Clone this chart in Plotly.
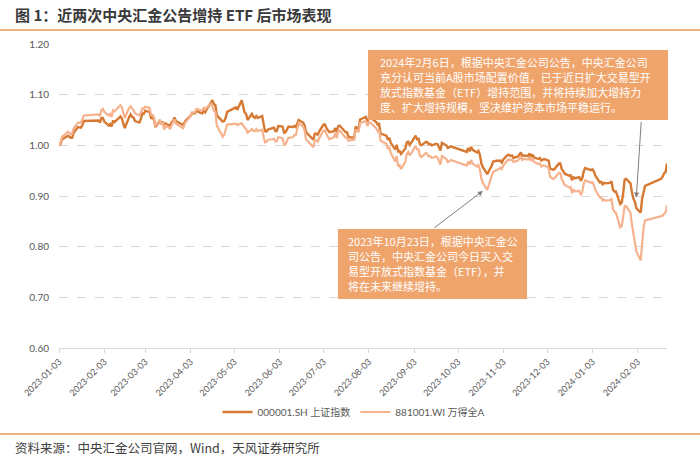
import pandas as pd
import plotly.graph_objects as go

# ---------------- data ----------------
start_date = "2023-01-03"
end_date = "2024-02-23"
market_holidays = [
    "2023-01-23", "2023-01-24", "2023-01-25", "2023-01-26", "2023-01-27",
    "2023-04-05", "2023-05-01", "2023-05-02", "2023-05-03",
    "2023-06-22", "2023-06-23", "2023-09-29",
    "2023-10-02", "2023-10-03", "2023-10-04", "2023-10-05", "2023-10-06",
    "2024-01-01", "2024-02-09", "2024-02-12", "2024-02-13", "2024-02-14",
    "2024-02-15", "2024-02-16",
]

# 000001.SH 上证指数 (normalised)
sh_values = [
    # 2023-01
    1.000, 1.002, 1.012, 1.013, 1.019, 1.017, 1.015, 1.015, 1.025, 1.036, 1.035, 1.035, 1.040, 1.048, 1.049, 1.045,
    # 2023-02
    1.054, 1.054, 1.047, 1.039, 1.042, 1.037, 1.049, 1.046, 1.054, 1.057, 1.053, 1.043, 1.034, 1.056, 1.061, 1.056, 1.055, 1.048, 1.045, 1.052,
    # 2023-03
    1.063, 1.062, 1.068, 1.066, 1.054, 1.054, 1.051, 1.036, 1.049, 1.041, 1.047, 1.035, 1.043, 1.038, 1.045, 1.048, 1.055, 1.048, 1.043, 1.041, 1.040, 1.046, 1.050,
    # 2023-04
    1.058, 1.063, 1.063, 1.068, 1.064, 1.063, 1.068, 1.065, 1.071, 1.086, 1.089, 1.081, 1.080, 1.059, 1.051, 1.047, 1.048, 1.054, 1.066,
    # 2023-05
    1.075, 1.070, 1.089, 1.077, 1.065, 1.062, 1.050, 1.062, 1.056, 1.054, 1.058, 1.054, 1.058, 1.042, 1.028, 1.027, 1.031, 1.034, 1.035, 1.028,
    # 2023-06
    1.028, 1.038, 1.037, 1.025, 1.026, 1.031, 1.037, 1.036, 1.038, 1.036, 1.044, 1.050, 1.045, 1.040, 1.026, 1.011, 1.023, 1.023, 1.021, 1.027,
    # 2023-07
    1.041, 1.041, 1.034, 1.029, 1.026, 1.028, 1.034, 1.026, 1.038, 1.039, 1.030, 1.026, 1.026, 1.017, 1.016, 1.015, 1.037, 1.034, 1.032, 1.051, 1.056,
    # 2023-08
    1.056, 1.047, 1.053, 1.055, 1.049, 1.046, 1.041, 1.044, 1.023, 1.020, 1.019, 1.011, 1.015, 1.005, 0.992, 1.001, 0.988, 0.989, 0.983, 0.994, 1.006, 1.007, 1.001,
    # 2023-09
    1.005, 1.019, 1.012, 1.013, 1.002, 1.000, 1.007, 1.006, 1.002, 1.003, 1.000, 1.003, 1.002, 0.997, 0.990, 1.005, 1.000, 0.995, 0.997, 0.998,
    # 2023-10
    0.987, 0.995, 0.988, 0.997, 0.991, 0.986, 0.989, 0.981, 0.964, 0.957, 0.943, 0.950, 0.954, 0.959, 0.968, 0.970, 0.969,
    # 2023-11
    0.970, 0.966, 0.972, 0.981, 0.981, 0.979, 0.980, 0.975, 0.978, 0.981, 0.986, 0.979, 0.980, 0.979, 0.984, 0.977, 0.982, 0.976, 0.973, 0.975, 0.970, 0.972,
    # 2023-12
    0.973, 0.970, 0.954, 0.953, 0.952, 0.953, 0.964, 0.964, 0.953, 0.949, 0.944, 0.940, 0.941, 0.931, 0.937, 0.935, 0.937, 0.930, 0.935, 0.948, 0.955,
    # 2024-01
    0.951, 0.953, 0.948, 0.940, 0.927, 0.928, 0.923, 0.926, 0.925, 0.926, 0.929, 0.913, 0.909, 0.909, 0.884, 0.887, 0.905, 0.932, 0.934, 0.925, 0.908, 0.895,
    # 2024-02
    0.889, 0.876, 0.867, 0.895, 0.908, 0.920, 0.934, 0.938, 0.945, 0.947, 0.964,
]

# 881001.WI 万得全A (normalised)
wa_values = [
    # 2023-01
    1.000, 1.005, 1.017, 1.019, 1.027, 1.025, 1.022, 1.023, 1.033, 1.045, 1.045, 1.045, 1.051, 1.059, 1.061, 1.058,
    # 2023-02
    1.070, 1.072, 1.066, 1.059, 1.062, 1.056, 1.069, 1.067, 1.076, 1.079, 1.075, 1.064, 1.054, 1.074, 1.077, 1.072, 1.070, 1.063, 1.059, 1.064,
    # 2023-03
    1.073, 1.072, 1.076, 1.074, 1.060, 1.060, 1.055, 1.038, 1.051, 1.041, 1.045, 1.031, 1.039, 1.033, 1.041, 1.045, 1.051, 1.043, 1.037, 1.035, 1.034, 1.042, 1.047,
    # 2023-04
    1.058, 1.065, 1.065, 1.072, 1.069, 1.069, 1.074, 1.071, 1.075, 1.082, 1.076, 1.068, 1.066, 1.039, 1.023, 1.017, 1.020, 1.030, 1.041,
    # 2023-05
    1.043, 1.040, 1.044, 1.039, 1.035, 1.032, 1.025, 1.032, 1.028, 1.028, 1.032, 1.028, 1.031, 1.017, 1.006, 1.007, 1.011, 1.012, 1.013, 1.008,
    # 2023-06
    1.008, 1.016, 1.014, 1.001, 1.002, 1.009, 1.015, 1.016, 1.020, 1.020, 1.034, 1.044, 1.037, 1.030, 1.012, 0.996, 1.009, 1.010, 1.007, 1.014,
    # 2023-07
    1.029, 1.029, 1.022, 1.016, 1.012, 1.016, 1.024, 1.014, 1.028, 1.029, 1.020, 1.015, 1.016, 1.009, 1.010, 1.011, 1.031, 1.028, 1.026, 1.044, 1.048,
    # 2023-08
    1.048, 1.038, 1.044, 1.045, 1.038, 1.034, 1.028, 1.031, 1.009, 1.005, 1.003, 0.993, 0.997, 0.985, 0.968, 0.979, 0.960, 0.961, 0.953, 0.968, 0.984, 0.987, 0.980,
    # 2023-09
    0.984, 0.999, 0.992, 0.992, 0.979, 0.977, 0.985, 0.983, 0.978, 0.979, 0.975, 0.978, 0.976, 0.970, 0.962, 0.979, 0.973, 0.967, 0.970, 0.971,
    # 2023-10
    0.960, 0.968, 0.962, 0.971, 0.964, 0.958, 0.961, 0.952, 0.934, 0.926, 0.912, 0.922, 0.928, 0.937, 0.948, 0.952, 0.953,
    # 2023-11
    0.956, 0.953, 0.960, 0.971, 0.972, 0.971, 0.972, 0.967, 0.970, 0.973, 0.978, 0.971, 0.973, 0.972, 0.977, 0.969, 0.974, 0.967, 0.963, 0.964, 0.958, 0.960,
    # 2023-12
    0.960, 0.956, 0.938, 0.936, 0.934, 0.935, 0.946, 0.945, 0.933, 0.928, 0.922, 0.917, 0.918, 0.906, 0.912, 0.909, 0.910, 0.902, 0.908, 0.924, 0.931,
    # 2024-01
    0.926, 0.927, 0.921, 0.912, 0.897, 0.897, 0.891, 0.893, 0.891, 0.892, 0.894, 0.875, 0.869, 0.867, 0.838, 0.841, 0.858, 0.880, 0.880, 0.867, 0.844, 0.825,
    # 2024-02
    0.814, 0.791, 0.773, 0.810, 0.838, 0.852, 0.859, 0.861, 0.865, 0.867, 0.882,
]

x_tick_dates = [
    "2023-01-03", "2023-02-03", "2023-03-03", "2023-04-03", "2023-05-03",
    "2023-06-03", "2023-07-03", "2023-08-03", "2023-09-03", "2023-10-03",
    "2023-11-03", "2023-12-03", "2024-01-03", "2024-02-03",
]
y_ticks = [0.60, 0.70, 0.80, 0.90, 1.00, 1.10, 1.20]

series_names = ["000001.SH 上证指数", "881001.WI 万得全A"]
title_text = "图 1：近两次中央汇金公告增持 ETF 后市场表现"
source_text = "资料来源：中央汇金公司官网，Wind，天风证券研究所"
note_feb_lines = [
    "2024年2月6日，根据中央汇金公司公告，中央汇金公司",
    "充分认可当前A股市场配置价值，已于近日扩大交易型开",
    "放式指数基金（ETF）增持范围，并将持续加大增持力",
    "度、扩大增持规模，坚决维护资本市场平稳运行。",
]
note_oct_lines = [
    "2023年10月23日，根据中央汇金公",
    "司公告，中央汇金公司今日买入交",
    "易型开放式指数基金（ETF），并",
    "将在未来继续增持。",
]
note_feb_target = ("2024-02-02", 0.897)
note_oct_target = ("2023-10-20", 0.910)

# ---------------- build ----------------
trade_days = pd.bdate_range(start_date, end_date)
trade_days = trade_days[~trade_days.isin(pd.to_datetime(market_holidays))]
assert len(trade_days) == len(sh_values) == len(wa_values), (len(trade_days), len(sh_values), len(wa_values))

CJK = "Noto Sans CJK SC"
LAT = "Lato, Noto Sans CJK SC"
dark = "#D67A33"
light = "#F5B28C"
box_fill = "#EFA46C"
gray_txt = "#595959"

fig = go.Figure()
fig.add_trace(go.Scatter(x=trade_days, y=sh_values, mode="lines", name=series_names[0],
                         line=dict(color=dark, width=2.4)))
fig.add_trace(go.Scatter(x=trade_days, y=wa_values, mode="lines", name=series_names[1],
                         line=dict(color=light, width=2.2)))

L, R, T, B = 59, 33, 44, 115
W, H = 700, 463
pw, ph = W - L - R, H - T - B


def px(xp):
    return (xp - L) / pw


def py(yp):
    return (H - B - yp) / ph


fig.update_layout(
    width=W, height=H,
    margin=dict(l=L, r=R, t=T, b=B, autoexpand=False),
    paper_bgcolor="white", plot_bgcolor="white",
    font=dict(family=LAT, color=gray_txt),
    showlegend=True,
    legend=dict(orientation="h", x=px(354), xanchor="center", y=py(412), yanchor="middle",
                font=dict(size=10, color=gray_txt, family=LAT), itemwidth=30,
                bgcolor="rgba(0,0,0,0)"),
    xaxis=dict(type="date", range=[start_date, end_date], tickvals=x_tick_dates,
               tickformat="%Y-%m-%d", tickangle=-45, showgrid=False, automargin=False,
               showline=True, linecolor="#D9D9D9", linewidth=1,
               ticks="outside", ticklen=4, tickcolor="#D9D9D9",
               tickfont=dict(size=9, color=gray_txt, family=LAT), zeroline=False),
    yaxis=dict(range=[0.6, 1.2], tickvals=y_ticks, tickformat=".2f", automargin=False,
               showgrid=True, gridcolor="#D9D9D9", griddash="dash", gridwidth=1,
               showline=False, zeroline=False, ticks="", ticklabelstandoff=9,
               tickfont=dict(size=10, color=gray_txt, family=LAT)),
)

# horizontal rules under title / above source
for yp in (30, 434):
    fig.add_shape(type="line", xref="paper", yref="paper", x0=px(0), x1=px(700),
                  y0=py(yp), y1=py(yp), line=dict(color="#EDB27C", width=2))

# note boxes
for (x0, y0, x1, y1) in ((368, 50, 668, 120), (338, 229, 527, 299)):
    fig.add_shape(type="rect", xref="paper", yref="paper", x0=px(x0), x1=px(x1),
                  y0=py(y1), y1=py(y0), fillcolor=box_fill, line=dict(width=0), layer="above")

fig.add_annotation(text=f"<b>{title_text}</b>", x=px(13), y=py(15), xref="paper", yref="paper",
                   xanchor="left", yanchor="middle", showarrow=False,
                   font=dict(family=CJK, size=15, color="#3A3A3A"))
fig.add_annotation(text=source_text, x=px(13), y=py(447), xref="paper", yref="paper",
                   xanchor="left", yanchor="middle", showarrow=False,
                   font=dict(family=CJK, size=12.5, color="#404040"))

for i, line in enumerate(note_feb_lines):
    fig.add_annotation(text=line, x=px(378), y=py(62 + 15 * i), xref="paper", yref="paper",
                       xanchor="left", yanchor="middle", showarrow=False,
                       font=dict(family=CJK, size=11, color="white"))
for i, line in enumerate(note_oct_lines):
    fig.add_annotation(text=line, x=px(346), y=py(241 + 15 * i), xref="paper", yref="paper",
                       xanchor="left", yanchor="middle", showarrow=False,
                       font=dict(family=CJK, size=11, color="white"))

fig.add_annotation(x=note_feb_target[0], y=note_feb_target[1], xref="x", yref="y", text="",
                   showarrow=True, ax=5, ay=-77, arrowhead=2, arrowsize=1, arrowwidth=1,
                   arrowcolor="#7F7F7F", standoff=0)
fig.add_annotation(x=note_oct_target[0], y=note_oct_target[1], xref="x", yref="y", text="",
                   showarrow=True, ax=-50, ay=38, arrowhead=2, arrowsize=1, arrowwidth=1,
                   arrowcolor="#7F7F7F", standoff=0)

fig.write_html("out.html", config={"displayModeBar": False},
               post_script="document.body.style.margin='0';document.body.style.padding='0';")
